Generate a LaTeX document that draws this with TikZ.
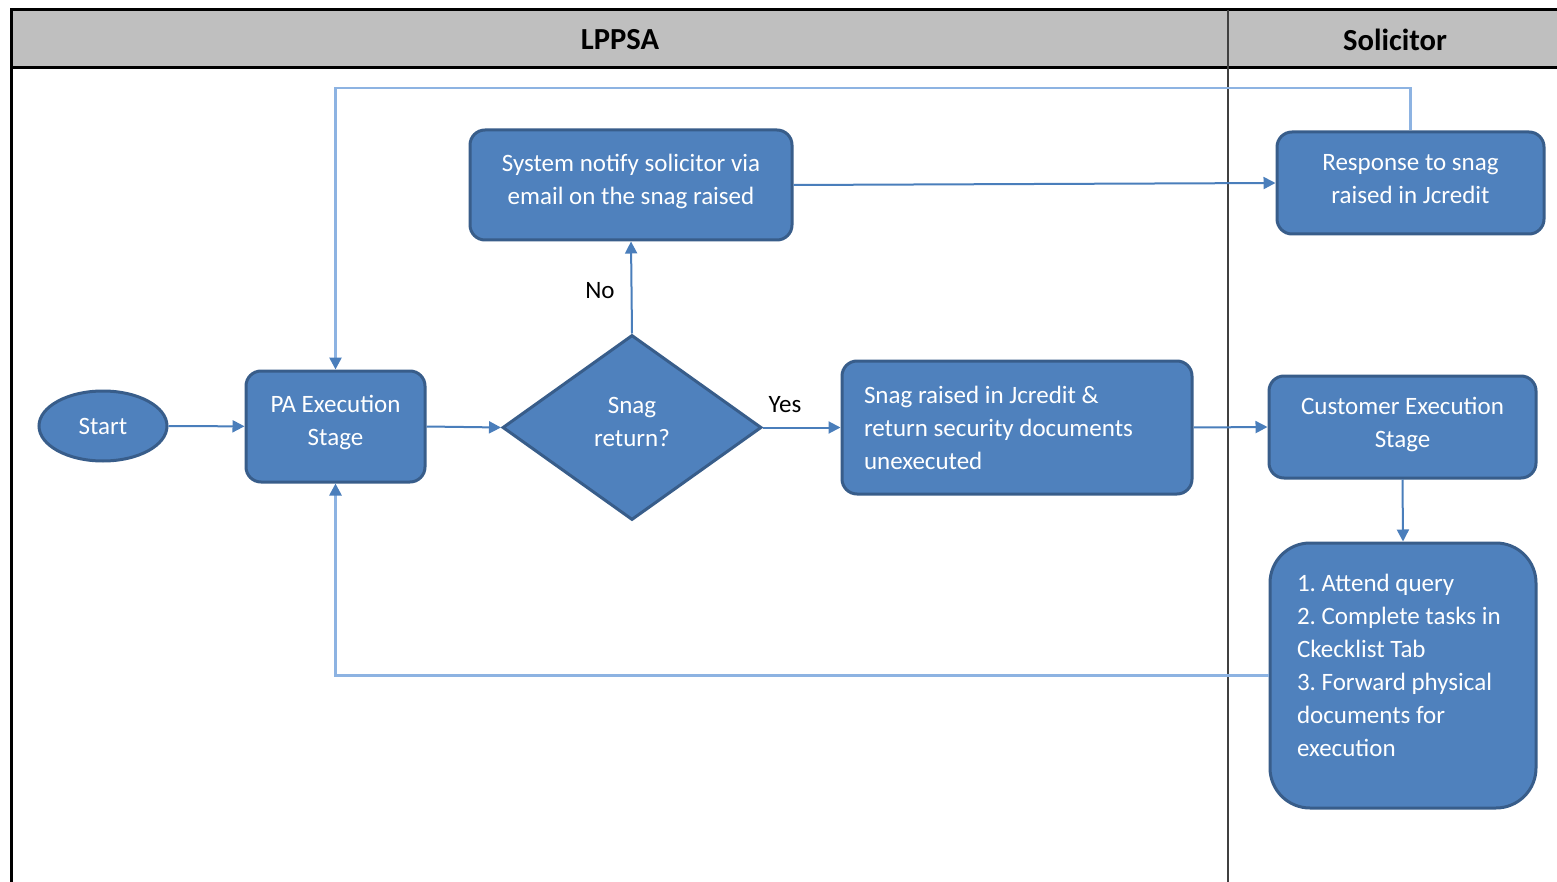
\documentclass[tikz,border=0pt]{standalone}
\usepackage{fontspec}
\setmainfont{Carlito}
\usetikzlibrary{shapes.geometric,arrows.meta}
\frenchspacing
\definecolor{boxfill}{HTML}{4F81BD}
\definecolor{boxline}{HTML}{385D8A}
\definecolor{conn}{HTML}{4A7EBB}
\definecolor{loopc}{HTML}{8DB3E2}
\definecolor{hdr}{HTML}{BFBFBF}
\definecolor{divc}{HTML}{404040}
\newcommand\liftstrut[1]{\rule[-#1]{0pt}{#1}}
\tikzset{
  boxtext/.style={font=\fontsize{12.5}{16.5}\selectfont\frenchspacing, text=white},
  procbox/.style={boxtext, draw=boxline, line width=1.5pt, fill=boxfill, rounded corners=7.5pt, align=center, inner sep=2pt},
  startshape/.style={boxtext, ellipse, draw=boxline, line width=1.5pt, fill=boxfill, minimum width=64pt, minimum height=35pt, inner sep=0pt},
  decision/.style={boxtext, diamond, draw=boxline, line width=1.5pt, fill=boxfill, minimum width=129.5pt, minimum height=92.5pt, inner sep=0pt, align=center},
  arr/.style={draw=conn, line width=1pt, -{Triangle[length=6pt,width=6pt]}},
  looparr/.style={draw=loopc, line width=1.3pt, -{Triangle[length=6pt,width=6pt,color=conn]}},
  lbl/.style={font=\fontsize{12.5}{15}\selectfont, text=black, inner sep=0pt},
  hdrtext/.style={font=\fontsize{15.3}{18}\selectfont\bfseries, text=black, inner sep=0pt}
}
\begin{document}
\begin{tikzpicture}[x=0.5pt,y=-0.5pt]
\useasboundingbox (0,0) rectangle (1557,882);
\fill[white] (0,0) rectangle (1557,882);
% header and frame
\fill[hdr] (11,10) rectangle (1557,68);
\draw[black, line width=1.5pt] (1557,10) -- (11,10) -- (11,882);
\draw[black, line width=1.5pt] (11,68) -- (1557,68);
\draw[divc, line width=1pt] (1228,10) -- (1228,882);
\node[hdrtext] (lppsa) at (620,40) {LPPSA};
\node[hdrtext] (solic) at (1395,40) {Solicitor};
% nodes
\node[startshape] (start) at (103,426) {Start};
\node[procbox, minimum width=89.5pt, minimum height=55.5pt] (pa) at (335.5,426.5) {PA Execution\\Stage\liftstrut{6pt}};
\node[decision] (dia) at (632,427.5) {Snag\\return?\liftstrut{6pt}};
\node[procbox, minimum width=161pt, minimum height=55pt] (notify) at (631,185) {System notify solicitor via\\email on the snag raised\liftstrut{6pt}};
\node[procbox, minimum width=175pt, minimum height=66.5pt, text width=153pt, align=flush left, inner xsep=11pt] (snag) at (1017,427.5) {Snag raised in Jcredit \&\\return security documents\\unexecuted};
\node[procbox, minimum width=133.5pt, minimum height=51pt] (resp) at (1410.5,183) {Response to snag\\raised in Jcredit\liftstrut{4pt}};
\node[procbox, minimum width=133.5pt, minimum height=51pt] (cust) at (1402.5,427) {Customer Execution\\Stage\liftstrut{5pt}};
\node[procbox, rounded corners=20pt, minimum width=133pt, minimum height=132.5pt, text width=106pt, align=flush left, inner xsep=13.5pt] (list) at (1403,675.5) {1. Attend query\\2. Complete tasks in\\Ckecklist Tab\\3. Forward physical\\documents for\\execution\liftstrut{10pt}};
% connectors
\coordinate (tl) at (335.5,88);
\draw[arr] (start) -- (pa);
\draw[arr] (pa.east) -- (dia.west);
\draw[arr] (dia.east) -- (snag.west);
\draw[arr] (dia.north) -- (notify.south);
\draw[arr] (notify.east) -- (resp.west);
\draw[arr] (snag.east) -- (cust.west);
\draw[arr] (cust.south) -- (list.north);
\draw[looparr] (resp.north) |- (tl) -- (pa.north);
\draw[looparr] (list.west) -| (pa.south);
\node[lbl] (yes) at (785,405) {Yes};
\node[lbl] (no) at (600,291) {No};
\end{tikzpicture}
\end{document}
